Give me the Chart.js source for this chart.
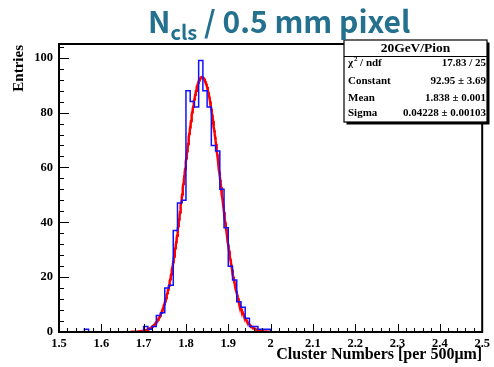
<!DOCTYPE html>
<html>
<head>
<meta charset="utf-8">
<script src="https://cdn.jsdelivr.net/npm/chart.js@4.4.1/dist/chart.umd.min.js"></script>
<style>
  html, body { margin: 0; padding: 0; background: #fff; }
  #wrap { position: relative; width: 494px; height: 367px; overflow: hidden; }
  #hist { position: absolute; left: 0; top: 0; }
  #title {
    position: absolute; left: 148px; top: 2px;
    font-family: "Noto Sans CJK SC", "Noto Sans", sans-serif;
    font-weight: 700; font-size: 30px; line-height: 36px;
    color: #23708f; white-space: nowrap;
  }
  #title sub { font-size: 20px; vertical-align: -7px; line-height: 0; }
</style>
</head>
<body>
<div id="wrap">
  <canvas id="hist" width="494" height="367"></canvas>
  <div id="title">N<sub>cls</sub> / 0.5 mm pixel</div>
</div>
<script>
// histogram binning: 100 bins of 0.01 from 1.5 to 2.5
const binLow = 1.5;
const binWidth = 0.01;
const counts = [
  0, 0, 0, 0, 0, 0, 1, 0, 0, 0,         // 1.50
  0, 0, 0, 0, 0, 0, 0, 0, 0, 0,         // 1.60
  2, 1, 2, 6, 7, 16, 17, 37, 47, 48,    // 1.70
  88, 84, 82, 99, 88, 82, 68, 66, 52, 38, // 1.80
  24, 19, 11, 9, 5, 2, 2, 1, 1, 1,      // 1.90
  0, 0, 0, 0, 0, 0, 0, 0, 0, 0,         // 2.00
  0, 0, 0, 0, 0, 0, 0, 0, 0, 0,
  0, 0, 0, 0, 0, 0, 0, 0, 0, 0,
  0, 0, 0, 0, 0, 0, 0, 0, 0, 0,
  0, 0, 0, 0, 0, 0, 0, 0, 0, 0          // 2.40
];

// gaus fit result
const fitConstant = 92.95;
const fitMean = 1.838;
const fitSigma = 0.04228;
const fitRange = [1.67, 2.0];

const statsTitle = '20GeV/Pion';
const statsNames = ['χ', 'Constant', 'Mean', 'Sigma'];
const statsValues = ['17.83 / 25', '92.95 ± 3.69', '1.838 ± 0.001', '0.04228 ± 0.00103'];

const xTickValues = [1.5, 1.6, 1.7, 1.8, 1.9, 2.0, 2.1, 2.2, 2.3, 2.4, 2.5];
const yTickValues = [0, 20, 40, 60, 80, 100];
const xMinorStep = 0.02;
const yMinorStep = 4;

const serif = '"Liberation Serif", "Times New Roman", serif';

// bin low edges, closing point at the upper edge
const histPoints = counts.map((c, i) => ({ x: binLow + i * binWidth, y: c }));
histPoints.push({ x: binLow + counts.length * binWidth, y: 0 });

const fitPoints = [];
for (let x = fitRange[0]; x <= fitRange[1] + 1e-9; x += 0.001) {
  const t = (x - fitMean) / fitSigma;
  fitPoints.push({ x: x, y: fitConstant * Math.exp(-0.5 * t * t) });
}

// frame, inward ticks, axis titles
const rootFrame = {
  id: 'rootFrame',
  afterDatasetsDraw(chart) {
    const { ctx, chartArea: a, scales } = chart;
    const xs = scales.x, ys = scales.y;
    ctx.save();
    ctx.strokeStyle = '#000';
    ctx.lineWidth = 1;
    ctx.beginPath();
    for (let v = xs.min; v <= xs.max + 1e-9; v += xMinorStep) {
      const px = Math.round(xs.getPixelForValue(v)) + 0.5;
      const major = Math.abs(v * 10 - Math.round(v * 10)) < 1e-6;
      ctx.moveTo(px, a.bottom);
      ctx.lineTo(px, a.bottom - (major ? 8 : 4));
    }
    for (let v = ys.min; v <= ys.max + 1e-9; v += yMinorStep) {
      const py = Math.round(ys.getPixelForValue(v)) + 0.5;
      const major = v % 20 === 0;
      ctx.moveTo(a.left, py);
      ctx.lineTo(a.left + (major ? 10 : 5), py);
    }
    ctx.stroke();

    ctx.lineWidth = 2;
    ctx.strokeRect(a.left, a.top, a.right - a.left, a.bottom - a.top);

    ctx.fillStyle = '#000';
    ctx.font = 'bold 16px ' + serif;
    ctx.textAlign = 'right';
    ctx.textBaseline = 'alphabetic';
    ctx.fillText('Cluster Numbers [per 500μm]', a.right, 359);

    ctx.translate(23, a.top + 1);
    ctx.rotate(-Math.PI / 2);
    ctx.font = 'bold 15px ' + serif;
    ctx.textAlign = 'right';
    ctx.fillText('Entries', 0, 0);
    ctx.restore();
  },
  afterDraw(chart) {
    // stats box
    const { ctx } = chart;
    const bx = 344, by = 40, bw = 143, bh = 82;
    ctx.save();
    ctx.fillStyle = '#000';
    ctx.fillRect(bx + 2.5, by + 2.5, bw, bh);
    ctx.fillStyle = '#fff';
    ctx.fillRect(bx, by, bw, bh);
    ctx.strokeStyle = '#000';
    ctx.lineWidth = 1.2;
    ctx.strokeRect(bx, by, bw, bh);
    ctx.beginPath();
    ctx.moveTo(bx, by + 16.5);
    ctx.lineTo(bx + bw, by + 16.5);
    ctx.stroke();

    ctx.fillStyle = '#000';
    ctx.textBaseline = 'middle';
    ctx.textAlign = 'center';
    ctx.font = 'bold 13.5px ' + serif;
    ctx.fillText(statsTitle, bx + bw / 2, by + 9);

    const rowY = [63, 81, 98, 113];
    const rowFont = 'bold 11px ' + serif;
    ctx.font = rowFont;
    statsNames.forEach((name, i) => {
      ctx.textAlign = 'left';
      ctx.fillText(name, bx + 4, rowY[i]);
      if (i === 0) {
        const w = ctx.measureText(name).width;
        ctx.font = 'bold 7px ' + serif;
        ctx.fillText('2', bx + 4 + w + 1, rowY[i] - 4);
        ctx.font = rowFont;
        ctx.fillText('/ ndf', bx + 4 + w + 7, rowY[i]);
      }
      ctx.textAlign = 'right';
      ctx.fillText(statsValues[i], bx + bw - 1, rowY[i]);
    });
    ctx.restore();
  }
};

new Chart(document.getElementById('hist'), {
  type: 'line',
  data: {
    datasets: [
      {
        data: histPoints,
        borderColor: '#1010ff',
        borderWidth: 1.5,
        stepped: 'before',
        pointRadius: 0,
        fill: false
      },
      {
        data: fitPoints,
        borderColor: '#ff0000',
        borderWidth: 2.5,
        pointRadius: 0,
        tension: 0,
        fill: false
      }
    ]
  },
  options: {
    responsive: false,
    animation: false,
    devicePixelRatio: 1,
    layout: { padding: { left: 0, right: 11, top: 44, bottom: 0 } },
    plugins: { legend: { display: false }, tooltip: { enabled: false } },
    scales: {
      x: {
        type: 'linear',
        min: 1.5,
        max: 2.5,
        grid: { display: false, drawTicks: false },
        border: { display: false },
        afterBuildTicks: s => { s.ticks = xTickValues.map(v => ({ value: v })); },
        afterFit: s => { s.height = 35; },
        ticks: {
          color: '#000',
          padding: 4,
          maxRotation: 0,
          autoSkip: false,
          font: { family: serif, size: 12.5, weight: 'bold' },
          callback: v => String(Number(v.toFixed(2)))
        }
      },
      y: {
        type: 'linear',
        min: 0,
        max: 105,
        grid: { display: false, drawTicks: false },
        border: { display: false },
        afterBuildTicks: s => { s.ticks = yTickValues.map(v => ({ value: v })); },
        afterFit: s => { s.width = 59; },
        ticks: {
          color: '#000',
          padding: 6,
          font: { family: serif, size: 12.5, weight: 'bold' }
        }
      }
    }
  },
  plugins: [rootFrame]
});
</script>
</body>
</html>
